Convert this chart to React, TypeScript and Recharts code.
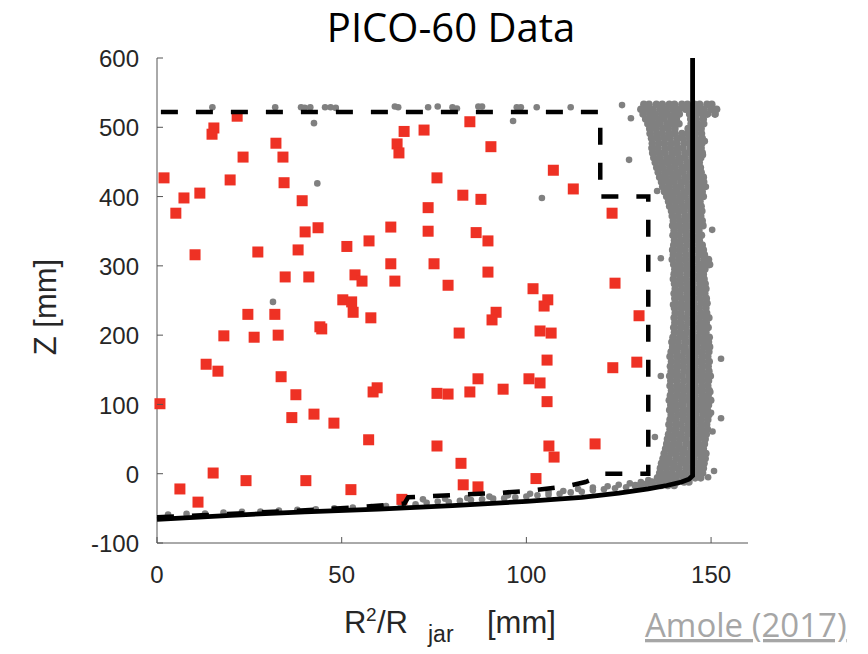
import { ScatterChart, Scatter, XAxis, YAxis } from 'recharts';

// axis ticks
const X_TICKS = [0, 50, 100, 150];
const Z_TICKS = [-100, 0, 100, 200, 300, 400, 500, 600];

// red squares: candidate events [R^2/Rjar, Z]
const candidates: [number, number][] = [
  [21.7, 516], [15.4, 499], [14.9, 490], [23.3, 457], [32.2, 477], [34.1, 457],
  [1.9, 427], [7.3, 398], [11.6, 405], [5.1, 376], [19.8, 424], [34.4, 420],
  [10.3, 316], [39.3, 394], [27.3, 320], [43.6, 355], [40.1, 349], [38.2, 323],
  [34.7, 284], [41.1, 284], [24.6, 230], [31.9, 230], [18.1, 199], [26.3, 197],
  [32.8, 200], [44.1, 212], [44.6, 209], [13.3, 158], [16.5, 148], [33.6, 140],
  [0.8, 101], [37.6, 114], [36.5, 81], [42.5, 86], [47.9, 73], [15.2, 1],
  [6.2, -22], [11.1, -41], [24.1, -10], [40.3, -10], [52.5, -23], [66.3, -37],
  [51.4, 328], [57.4, 336], [53.6, 287], [55.5, 278], [63.3, 356], [63.3, 303],
  [64.4, 278], [66.9, 494], [72.3, 496], [65.0, 476], [65.5, 463], [84.7, 508],
  [90.4, 472], [75.8, 427], [82.8, 402], [87.7, 396], [73.4, 384], [73.4, 350],
  [86.4, 348], [89.6, 336], [75.0, 303], [78.8, 272], [89.6, 291], [107.3, 438],
  [112.7, 411], [123.2, 376], [101.8, 267], [124.0, 275], [50.3, 251], [52.7, 248],
  [53.1, 233], [57.9, 225], [57.3, 49], [58.5, 118], [59.6, 124], [75.8, 116],
  [78.8, 115], [75.8, 40], [105.8, 251], [104.8, 242], [91.8, 233], [90.7, 222],
  [81.8, 203], [103.7, 206], [106.7, 203], [130.5, 228], [105.6, 164], [123.4, 153],
  [129.9, 161], [84.7, 118], [86.9, 137], [93.7, 122], [100.7, 137], [103.7, 131],
  [105.6, 104], [82.3, 15], [106.1, 40], [107.5, 24], [118.6, 43], [82.9, -16],
  [86.9, -19], [102.6, -7],
];

// grey background events along the jar wall: [Z, R^2/Rjar values...]
const wallRows: number[][] = [
  [533, 131.8, 133.2, 135.2, 136.8, 138.7, 140.1, 142.1, 143.6, 145.5, 146.9, 148.9, 150.2],
  [526, 131.0, 132.8, 134.3, 136.2, 137.7, 139.6, 141.2, 143.1, 144.7, 146.6, 148.1, 150.0, 151.5],
  [519, 131.6, 133.4, 134.9, 136.7, 138.2, 140.1, 141.4, 144.2, 145.8, 147.6, 149.0, 151.1],
  [512, 132.3, 133.9, 135.8, 137.3, 139.2, 140.6, 144.5, 146.0, 147.9],
  [505, 132.9, 134.7, 136.2, 138.1, 139.7, 141.3, 144.6, 146.4, 148.0],
  [498, 133.4, 135.0, 136.9, 138.4, 140.2, 143.8, 145.8, 147.3],
  [491, 133.5, 135.3, 136.8, 138.7, 140.2, 142.1, 143.7, 145.7, 147.4],
  [484, 133.9, 135.5, 137.4, 138.9, 140.8, 142.3, 144.2, 145.8, 147.6],
  [477, 134.1, 135.9, 137.4, 139.3, 140.8, 142.8, 144.3, 146.2, 147.5],
  [470, 134.0, 135.6, 137.5, 139.0, 140.9, 142.4, 144.4, 145.9, 147.3],
  [463, 134.2, 136.0, 137.5, 139.4, 140.9, 142.9, 144.4, 146.3, 147.6],
  [456, 134.5, 136.1, 138.0, 139.5, 141.4, 142.9, 144.8, 146.3, 147.2],
  [449, 134.9, 136.7, 138.2, 140.1, 141.6, 143.5, 145.0, 146.8],
  [442, 135.3, 136.9, 138.8, 140.3, 142.2, 143.7, 145.6, 147.1],
  [435, 135.7, 137.5, 139.0, 140.9, 142.4, 144.3, 145.8, 147.3],
  [428, 136.1, 137.7, 139.6, 141.1, 143.0, 144.5, 146.4, 147.9],
  [421, 136.6, 138.4, 139.9, 141.8, 143.3, 145.2, 146.7, 148.0],
  [414, 136.9, 138.5, 140.4, 141.9, 143.8, 145.3, 147.1],
  [407, 137.4, 139.2, 140.7, 142.6, 144.1, 146.0, 147.6],
  [400, 138.0, 139.6, 141.5, 143.0, 144.9, 146.4, 147.9],
  [393, 138.5, 140.3, 141.8, 143.7, 145.2, 147.0],
  [386, 138.8, 140.4, 142.3, 143.8, 145.7, 147.3],
  [379, 139.3, 141.1, 142.6, 144.5, 146.0, 147.5],
  [372, 139.5, 141.1, 143.0, 144.5, 146.4, 147.2],
  [365, 139.8, 141.6, 143.1, 145.0, 146.5, 147.6],
  [358, 139.6, 141.2, 143.1, 144.6, 146.5, 147.8],
  [351, 140.0, 141.8, 143.3, 145.2, 146.7],
  [344, 139.7, 141.3, 143.2, 144.7, 146.6, 147.4],
  [337, 140.1, 141.9, 143.4, 145.3, 146.8],
  [330, 139.9, 141.5, 143.4, 144.9, 146.8, 147.6],
  [323, 139.6, 141.4, 142.9, 144.8, 146.3, 147.9],
  [316, 139.8, 141.4, 143.3, 144.8, 146.7, 148.2],
  [309, 139.5, 141.3, 142.8, 144.7, 146.2, 148.1, 149.3],
  [302, 139.9, 141.5, 143.4, 144.9, 146.8, 148.3, 149.6],
  [295, 140.2, 142.0, 143.5, 145.4, 146.9, 148.3],
  [288, 140.0, 141.6, 143.5, 145.0, 146.9, 147.9],
  [281, 139.8, 141.6, 143.1, 145.0, 146.5, 148.1],
  [274, 140.1, 141.7, 143.6, 145.1, 147.0, 148.4],
  [267, 140.3, 142.1, 143.6, 145.5, 147.0, 148.6],
  [260, 140.0, 141.6, 143.5, 145.0, 146.9, 148.3],
  [253, 140.2, 142.0, 143.5, 145.4, 146.9, 148.7],
  [246, 140.4, 142.0, 143.9, 145.4, 147.3, 148.9],
  [239, 140.1, 141.9, 143.4, 145.3, 146.8, 148.6],
  [232, 140.3, 141.9, 143.8, 145.3, 147.2, 148.8],
  [225, 140.0, 141.8, 143.3, 145.2, 146.7, 148.5, 149.4],
  [218, 140.2, 141.8, 143.7, 145.2, 147.1, 148.7],
  [211, 139.9, 141.7, 143.2, 145.1, 146.6, 148.4, 149.2],
  [204, 140.1, 141.7, 143.6, 145.1, 147.0, 148.6],
  [197, 139.7, 141.5, 143.0, 144.9, 146.4, 148.2, 149.5],
  [190, 139.4, 141.0, 142.9, 144.4, 146.3, 147.8, 149.3],
  [183, 139.6, 141.4, 142.9, 144.8, 146.3, 148.2, 149.6],
  [176, 139.2, 140.8, 142.7, 144.2, 146.1, 147.6, 149.4],
  [169, 138.9, 140.7, 142.2, 144.1, 145.6, 147.5, 149.1],
  [162, 139.3, 140.9, 142.8, 144.3, 146.2, 147.7, 149.5],
  [155, 139.0, 140.8, 142.3, 144.2, 145.7, 147.6, 149.2],
  [148, 139.2, 140.8, 142.7, 144.2, 146.1, 147.6, 149.4],
  [141, 138.8, 140.6, 142.1, 144.0, 145.5, 147.4, 148.9, 149.8],
  [134, 139.1, 140.7, 142.6, 144.1, 146.0, 147.5, 149.3],
  [127, 138.9, 140.7, 142.2, 144.1, 145.6, 147.5, 149.1],
  [120, 139.3, 140.9, 142.8, 144.3, 146.2, 147.7, 149.5],
  [113, 139.0, 140.8, 142.3, 144.2, 145.7, 147.6, 149.2],
  [106, 138.7, 140.3, 142.2, 143.7, 145.6, 147.1, 148.9, 149.9],
  [99, 139.1, 140.9, 142.4, 144.3, 145.8, 147.7, 149.3],
  [92, 138.8, 140.4, 142.3, 143.8, 145.7, 147.2, 149.0],
  [85, 139.2, 141.0, 142.5, 144.4, 145.9, 147.8, 149.4],
  [78, 138.9, 140.5, 142.4, 143.9, 145.8, 147.3, 149.1],
  [71, 138.6, 140.4, 141.9, 143.8, 145.3, 147.2, 148.8],
  [64, 138.9, 140.5, 142.4, 143.9, 145.8, 147.3, 149.0],
  [57, 138.5, 140.3, 141.8, 143.7, 145.2, 147.1, 148.7],
  [50, 138.2, 139.8, 141.7, 143.2, 145.1, 146.6, 148.4],
  [43, 138.0, 139.8, 141.3, 143.2, 144.7, 146.6, 148.2],
  [36, 137.7, 139.3, 141.2, 142.7, 144.6, 146.1, 147.9],
  [29, 137.3, 139.1, 140.6, 142.5, 144.0, 145.9, 147.4, 148.6],
  [22, 137.0, 138.6, 140.5, 142.0, 143.9, 145.4, 147.3, 148.4],
  [15, 136.6, 138.4, 139.9, 141.8, 143.3, 145.2, 146.7, 148.1],
  [8, 136.3, 137.9, 139.8, 141.3, 143.2, 144.7, 146.6, 147.9],
  [1, 136.1, 137.9, 139.4, 141.3, 142.8, 144.7, 146.2, 147.7],
  [-6, 135.5, 137.1, 139.0, 140.5, 142.4, 143.9, 145.7, 147.2],
  [-12, 134.0, 135.9, 137.4, 139.3, 140.8, 142.7, 144.0],
  [-17, 129.5, 131.4, 132.9, 134.9, 136.4, 138.3, 140.0],
];

// grey events lying on the jar floor
const floorDots: [number, number][] = [
  [3, -59], [8, -58], [13, -57.5], [18, -56], [23, -55], [28, -54.5], [33, -53],
  [38, -52], [43, -51.5], [48, -50], [53, -49], [58, -48], [62, -46.5], [66, -45],
  [70, -44], [73, -42], [76, -40], [79, -41], [82, -39], [85, -38], [88, -37],
  [91, -36], [94, -35.5], [97, -34], [100, -33], [103, -31], [106, -30.5], [109, -29],
  [112, -27], [115, -26], [118, -24], [121, -22.5], [124, -21], [127, -19.5], [130, -17],
  [132, -15], [134, -12], [136, -10], [138, -8], [140, -6], [141, -2],
  [72, -37], [78, -36], [84, -35], [90, -33], [95, -31], [101, -29], [106, -26],
  [110, -25], [114, -22], [118, -20], [122, -18], [125, -16], [128, -14], [131, -12],
  [133, -9], [136, -6], [139, -3],
];

// scattered grey events (surface and strays)
const strayDots: [number, number][] = [
  [15, 529], [32, 529], [39, 529], [40, 528], [41.5, 529], [42.5, 506], [45.5, 529],
  [47, 529], [48.4, 528], [64.4, 530], [65.3, 529], [73.4, 529], [76, 530], [80, 529],
  [81.2, 527], [87, 530], [88, 530], [97.4, 529], [98.5, 529], [96.4, 509], [102.8, 529],
  [112, 529], [125.9, 532], [128.3, 513], [127.8, 453], [104.2, 398], [135.4, 408],
  [136.4, 311], [148.3, 480], [147.8, 460], [148.6, 414], [150.5, 525], [151, 519],
  [43.4, 419], [31.4, 248], [152.7, 166], [136.4, 141], [152.7, 80], [150, 88],
  [150.8, 4], [149.2, -5], [134.8, 53], [149.2, 301], [139.7, 244], [150.3, 352],
  [149.8, 118], [150.4, 61],
];

// jar wall boundary (solid) and fiducial cut (dashed)
const jarWall: [number, number][] = [
  [0, -66], [20, -60], [40, -55], [60, -51], [80, -46], [100, -40], [115, -34],
  [125, -28], [133, -22], [138, -17], [142, -12], [144, -8], [145, -3], [145, 600],
];
const fiducialCut: [number, number][] = [
  [0, -63], [12, -60], [39, -53], [55, -48], [67, -43], [68, -34], [83, -30],
  [92, -28], [102, -24], [111, -18], [116, -12], [120, -3], [121, 0], [133, 0],
  [133, 400], [120, 400], [120, 522], [0, 522],
];

const toPts = (arr: [number, number][]) => arr.map(([x, z]) => ({ x, z }));
const wallPts = wallRows.flatMap(([z, ...xs]) => xs.map((x) => ({ x, z })));
const greyPts = [...toPts(floorDots), ...toPts(strayDots)];

const AX = '#555';
const TICK_FONT = { fontFamily: '"Liberation Sans", Arial, sans-serif', fontSize: 24, fill: '#262626' };

const LeftTick = (p: any) => (
  <g>
    <line x1={p.x} x2={p.x + 6} y1={p.y} y2={p.y} stroke={AX} />
    <text x={p.x - 18} y={p.y} dy="0.38em" textAnchor="end" {...TICK_FONT}>{p.payload.value}</text>
  </g>
);
const BottomTick = (p: any) => (
  <g>
    <line x1={p.x} x2={p.x} y1={p.y} y2={p.y - 6} stroke={AX} />
    <text x={p.x} y={p.y + 40} textAnchor="middle" {...TICK_FONT}>{p.payload.value}</text>
  </g>
);
const TopTick = (p: any) => <line x1={p.x} x2={p.x} y1={p.y} y2={p.y + 6} stroke={AX} />;
const RightTick = (p: any) => <line x1={p.x} x2={p.x - 6} y1={p.y} y2={p.y} stroke={AX} />;

const WallDot = (p: any) => <circle cx={p.cx} cy={p.cy} r={3.8} fill="#808080" />;
const GreyDot = (p: any) => <circle cx={p.cx} cy={p.cy} r={3.3} fill="#808080" />;
const RedSquare = (p: any) => <rect x={p.cx - 5.5} y={p.cy - 5.5} width={11} height={11} fill="#ee3124" />;
const NoDot = () => <g />;

export default function App() {
  return (
    <div style={{ position: 'absolute', left: 0, top: 0, width: 868, height: 654, background: '#fff' }}>
      <ScatterChart width={868} height={654} margin={{ top: 58, right: 120, bottom: 61, left: 97 }}>
        <XAxis xAxisId="b" type="number" dataKey="x" domain={[0, 160]} ticks={X_TICKS} height={50}
          orientation="bottom" tick={BottomTick} tickSize={0} tickMargin={0} stroke={AX} interval={0} />
        <XAxis xAxisId="t" type="number" dataKey="x" domain={[0, 160]} ticks={X_TICKS} height={0}
          orientation="top" tick={TopTick} tickSize={0} tickMargin={0} stroke={AX} interval={0} />
        <YAxis yAxisId="l" type="number" dataKey="z" domain={[-100, 600]} ticks={Z_TICKS} width={60}
          orientation="left" tick={LeftTick} tickSize={0} tickMargin={0} stroke={AX} interval={0} />
        <YAxis yAxisId="r" type="number" dataKey="z" domain={[-100, 600]} ticks={Z_TICKS} width={0}
          orientation="right" tick={RightTick} tickSize={0} tickMargin={0} stroke={AX} interval={0} />
        <Scatter xAxisId="t" yAxisId="r" data={[]} shape={NoDot} isAnimationActive={false} />
        <Scatter xAxisId="b" yAxisId="l" data={wallPts} shape={WallDot} isAnimationActive={false} />
        <Scatter xAxisId="b" yAxisId="l" data={greyPts} shape={GreyDot} isAnimationActive={false} />
        <Scatter xAxisId="b" yAxisId="l" data={toPts(candidates)} shape={RedSquare} isAnimationActive={false} />
        <Scatter xAxisId="b" yAxisId="l" data={toPts(fiducialCut)} shape={NoDot}
          line={{ stroke: '#000', strokeWidth: 4.5, strokeDasharray: '17 18' }} isAnimationActive={false} />
        <Scatter xAxisId="b" yAxisId="l" data={toPts(jarWall)} shape={NoDot}
          line={{ stroke: '#000', strokeWidth: 4.8 }} isAnimationActive={false} />
      </ScatterChart>
      <svg width={868} height={654} style={{ position: 'absolute', left: 0, top: 0, pointerEvents: 'none' }}>
        <text x={451} y={42} textAnchor="middle" fontFamily='"Open Sans", sans-serif' fontSize={40} fill="#000">
          PICO-60 Data
        </text>
        <text x={45} y={307} transform="rotate(-90 45 307)" textAnchor="middle" dominantBaseline="central"
          fontFamily='"Liberation Sans", Arial, sans-serif' fontSize={31} fill="#262626">
          Z [mm]
        </text>
        <text y={633} fontFamily='"Liberation Sans", Arial, sans-serif' fontSize={31} fill="#262626">
          <tspan x={344}>R</tspan>
          <tspan x={366} dy={-12} fontSize={19}>2</tspan>
          <tspan x={377} dy={12}>/R</tspan>
          <tspan x={428} dy={9} fontSize={23}>jar</tspan>
          <tspan x={487} dy={-9}>[mm]</tspan>
        </text>
        <text x={645} y={637} fontFamily='"Open Sans", sans-serif' fontSize={33} fill="#a6a6a6"
          textDecoration="underline">
          Amole (2017)
        </text>
      </svg>
    </div>
  );
}
